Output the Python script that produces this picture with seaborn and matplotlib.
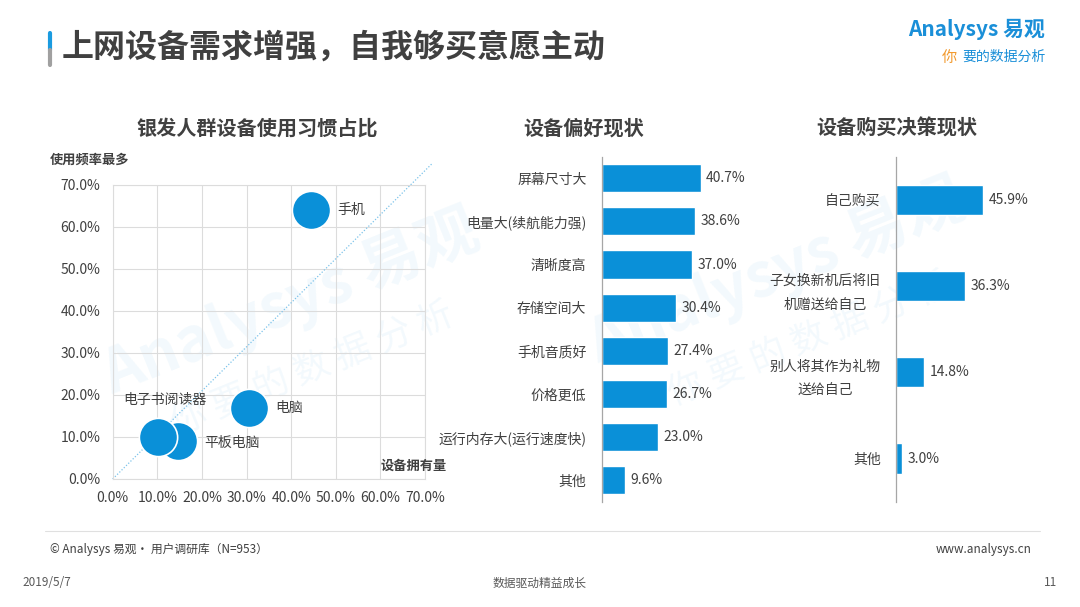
import matplotlib
matplotlib.use("Agg")
import matplotlib.pyplot as plt
import seaborn as sns
import pandas as pd
from matplotlib.lines import Line2D

sns.set_theme(style="white")
plt.rcParams['font.family'] = ['Noto Sans CJK SC', 'DejaVu Sans']

# ---- data ----
devices = ["手机", "电脑", "平板电脑", "电子书阅读器"]
ownership = [44.4, 30.6, 14.7, 10.2]
frequency = [64.0, 17.0, 9.0, 10.1]

pref_labels = ["屏幕尺寸大", "电量大(续航能力强)", "清晰度高", "存储空间大",
               "手机音质好", "价格更低", "运行内存大(运行速度快)", "其他"]
pref_values = [40.7, 38.6, 37.0, 30.4, 27.4, 26.7, 23.0, 9.6]

buy_labels = ["自己购买", "子女换新机后将旧\n机赠送给自己",
              "别人将其作为礼物\n送给自己", "其他"]
buy_values = [45.9, 36.3, 14.8, 3.0]

pct_ticks = [0, 10, 20, 30, 40, 50, 60, 70]

BLUE = "#0a90d8"
TXT = "#404040"

fig = plt.figure(figsize=(10.8, 6.07), dpi=100)

# watermarks
fig.text(0.27, 0.50, "Analysys 易观", fontsize=44, color="#0a90d8", alpha=0.05,
         rotation=22, ha="center", va="center", fontweight="bold", zorder=-1)
fig.text(0.29, 0.39, "你 要 的 数 据 分 析", fontsize=26, color="#0a90d8", alpha=0.05,
         rotation=22, ha="center", va="center", zorder=-1)
fig.text(0.72, 0.55, "Analysys 易观", fontsize=44, color="#0a90d8", alpha=0.05,
         rotation=22, ha="center", va="center", fontweight="bold", zorder=-1)
fig.text(0.75, 0.44, "你 要 的 数 据 分 析", fontsize=26, color="#0a90d8", alpha=0.05,
         rotation=22, ha="center", va="center", zorder=-1)

# header
fig.add_artist(Line2D([0.0465, 0.0465], [1 - 33 / 607, 1 - 50 / 607], color="#1a9be0", lw=3))
fig.add_artist(Line2D([0.0465, 0.0465], [1 - 50 / 607, 1 - 65 / 607], color="#a0a0a0", lw=3))
fig.text(0.057, 1 - 48 / 607, "上网设备需求增强，自我够买意愿主动", fontsize=23,
         fontweight="bold", color=TXT, va="center")
fig.text(0.968, 1 - 29 / 607, "Analysys 易观", fontsize=15, fontweight="bold",
         color="#1a8fd8", ha="right", va="center")
fig.text(0.872, 1 - 57 / 607, "你", fontsize=11, color="#f29a2e", va="center")
fig.text(0.968, 1 - 57 / 607, "要的数据分析", fontsize=10, color="#1a8fd8",
         ha="right", va="center", style="italic")

# ---- scatter ----
ax1 = fig.add_axes([112.7 / 1080, 1 - 479 / 607, 312.3 / 1080, 294 / 607])
ax1.patch.set_alpha(0)
df_sc = pd.DataFrame({"device": devices, "own": ownership, "freq": frequency})
sns.scatterplot(data=df_sc, x="own", y="freq", s=760, color=BLUE,
                edgecolor="white", linewidth=1.2, ax=ax1, zorder=3, legend=False)
ax1.plot([0, 71.5], [0, 75], ls=(0, (1, 1.5)), color="#7cc3ea", lw=0.9,
         clip_on=False, zorder=2)
ax1.set_xlim(0, 70)
ax1.set_ylim(0, 70)
ax1.set_xticks(pct_ticks)
ax1.set_yticks(pct_ticks)
ax1.set_xticklabels([f"{t:.1f}%" for t in pct_ticks])
ax1.set_yticklabels([f"{t:.1f}%" for t in pct_ticks])
ax1.grid(True, color="#dcdcdc", lw=0.8)
for sp in ax1.spines.values():
    sp.set_color("#dcdcdc")
    sp.set_linewidth(0.8)
ax1.tick_params(length=0, labelsize=10, labelcolor=TXT, pad=9)
ax1.set_xlabel("")
ax1.set_ylabel("")
offsets = {"手机": (19, 0, "left", "center"), "电脑": (19, 0, "left", "center"),
           "平板电脑": (19, -1, "left", "center"), "电子书阅读器": (5, 26, "center", "center")}
for d, x, y in zip(devices, ownership, frequency):
    dx, dy, ha, va = offsets[d]
    ax1.annotate(d, (x, y), xytext=(dx, dy), textcoords="offset points",
                 ha=ha, va=va, fontsize=10, color=TXT)
ax1.text(-0.2, 1.085, "使用频率最多", transform=ax1.transAxes, fontsize=9.5,
         fontweight="bold", color=TXT, ha="left", va="center")
ax1.text(1.07, 0.022, "设备拥有量", transform=ax1.transAxes, fontsize=9.5,
         fontweight="bold", color=TXT, ha="right", va="bottom")
fig.text(257 / 1080, 1 - 128 / 607, "银发人群设备使用习惯占比", fontsize=14.5,
         fontweight="bold", color=TXT, ha="center", va="center")

# ---- bar charts ----
def bar_panel(ax, labels, values, xmax, width):
    ax.patch.set_alpha(0)
    df = pd.DataFrame({"label": labels, "value": values})
    sns.barplot(data=df, y="label", x="value", color=BLUE, width=width,
                saturation=1, ax=ax, orient="h")
    ax.set_xlim(0, xmax)
    ax.set_ylim(len(labels) - 0.5, -0.5)
    for sp in ["top", "right", "bottom"]:
        ax.spines[sp].set_visible(False)
    ax.spines["left"].set_color("#a6a6a6")
    ax.spines["left"].set_linewidth(0.9)
    ax.set_xticks([])
    ax.set_xlabel("")
    ax.set_ylabel("")
    ax.tick_params(axis="y", length=0, labelsize=10, labelcolor=TXT, pad=11)
    for lab in ax.get_yticklabels():
        lab.set_multialignment("center")
        lab.set_linespacing(1.9)
    for i, v in enumerate(values):
        ax.annotate(f"{v:.1f}%", (v, i), xytext=(4, 0), textcoords="offset points",
                    ha="left", va="center", fontsize=10, color=TXT)

ax2 = fig.add_axes([601.7 / 1080, 1 - 501.7 / 607, 121.5 / 1080, 345 / 607])
bar_panel(ax2, pref_labels, pref_values, 50, 0.65)
fig.text(584 / 1080, 1 - 128 / 607, "设备偏好现状", fontsize=14.5,
         fontweight="bold", color=TXT, ha="center", va="center")

ax3 = fig.add_axes([896 / 1080, 1 - 501.7 / 607, 114 / 1080, 345 / 607])
bar_panel(ax3, buy_labels, buy_values, 60, 0.35)
fig.text(897 / 1080, 1 - 128 / 607, "设备购买决策现状", fontsize=14.5,
         fontweight="bold", color=TXT, ha="center", va="center")

# ---- footer ----
fig.add_artist(Line2D([45 / 1080, 1040 / 1080], [1 - 531 / 607, 1 - 531 / 607],
                      color="#e0e0e0", lw=0.8))
fig.text(50 / 1080, 1 - 549 / 607, "© Analysys 易观· 用户调研库（N=953）",
         fontsize=8.5, color=TXT, va="center")
fig.text(1032 / 1080, 1 - 549 / 607, "www.analysys.cn", fontsize=8.5,
         color=TXT, ha="right", va="center")
fig.text(22 / 1080, 1 - 583 / 607, "2019/5/7", fontsize=8.5, color="#595959", va="center")
fig.text(540 / 1080, 1 - 583 / 607, "数据驱动精益成长", fontsize=8.5,
         color="#595959", ha="center", va="center")
fig.text(1057 / 1080, 1 - 583 / 607, "11", fontsize=8.5, color="#595959",
         ha="right", va="center")

fig.savefig("out.png", dpi=100)
